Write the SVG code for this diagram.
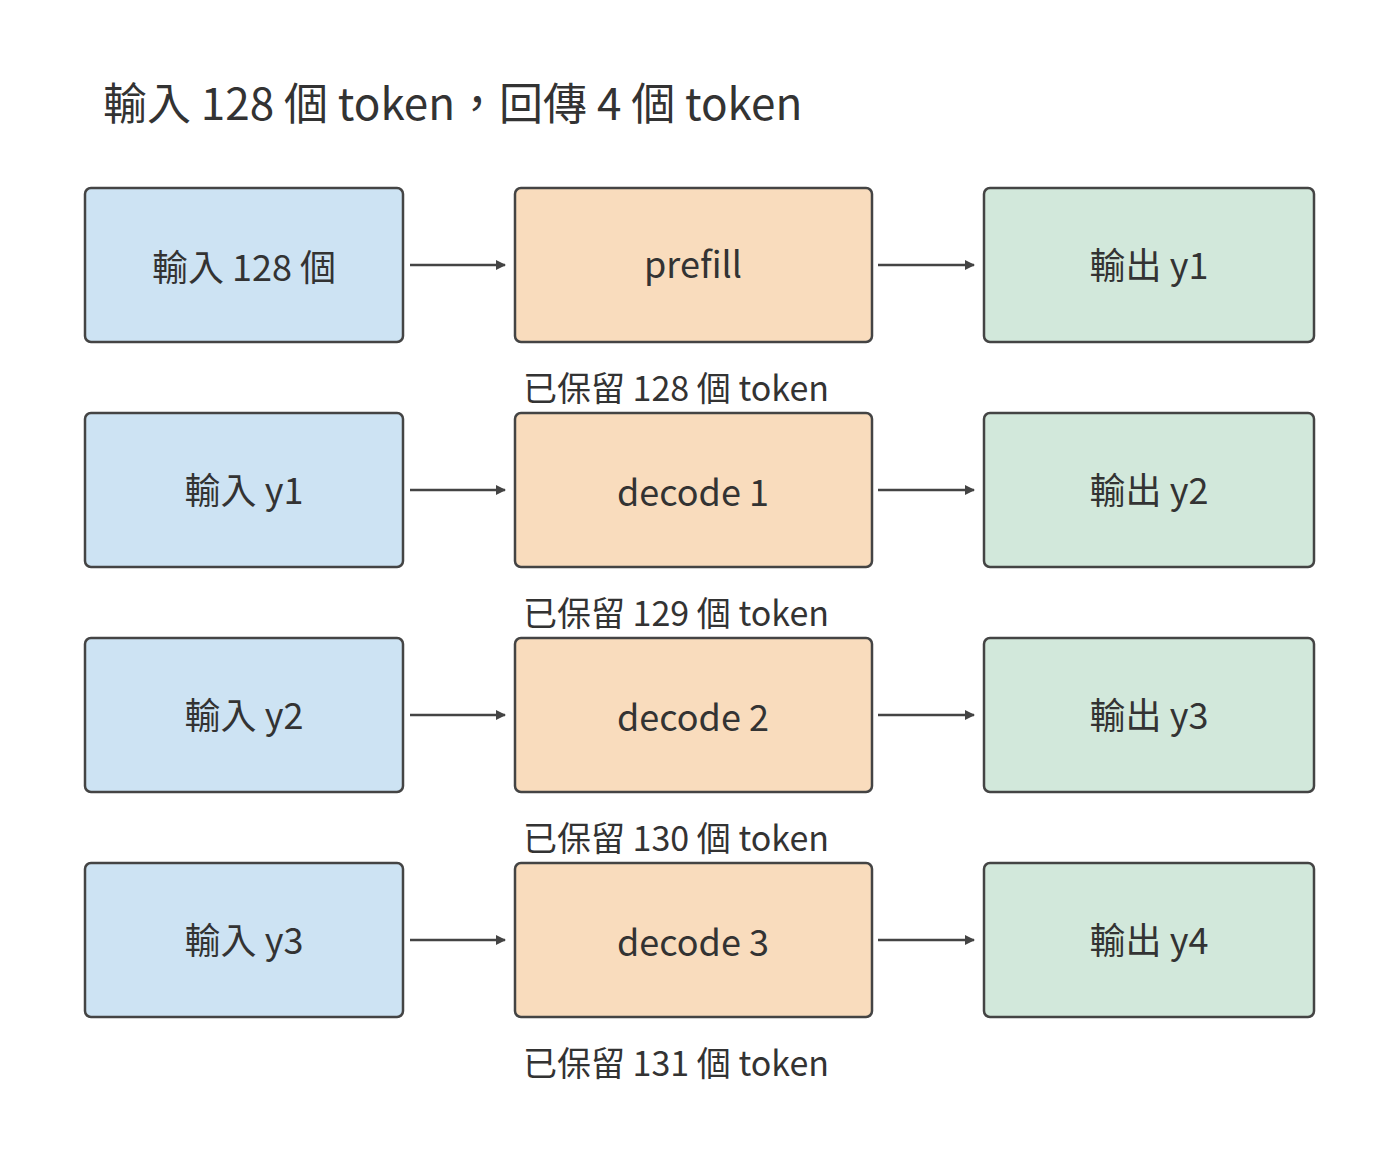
<svg xmlns="http://www.w3.org/2000/svg" width="1400" height="1152" viewBox="0 0 1400 1152">
<style>
text{font-family:"Noto Sans CJK TC","Noto Sans",sans-serif;fill:#333}
.b{stroke:#444;stroke-width:2.5}
.in{fill:#cde3f3}.mid{fill:#f9dcbd}.out{fill:#d2e8db}
.l{font-size:36px;text-anchor:middle;dominant-baseline:central}
.c{font-size:34px}
.a{stroke:#444;stroke-width:2.5;fill:none;marker-end:url(#ah)}
</style>
<defs><marker id="ah" markerWidth="10" markerHeight="10" refX="9" refY="5" orient="auto" markerUnits="userSpaceOnUse" viewBox="0 0 10 10"><path d="M0,0L10,5L0,10z" fill="#444"/></marker></defs>
<rect width="1400" height="1152" fill="#fff"/>
<text x="103" y="120" font-size="44">輸入 128 個 token，回傳 4 個 token</text>
<g id="in0"><rect class="b in" x="85" y="188" width="318" height="154" rx="6"/><text class="l" x="244" y="265">輸入 128 個</text></g>
<g id="mid0"><rect class="b mid" x="515" y="188" width="357" height="154" rx="6"/><text class="l" x="693" y="262" font-size="40">prefill</text></g>
<g id="out0"><rect class="b out" x="984" y="188" width="330" height="154" rx="6"/><text class="l" x="1149" y="263">輸出 y1</text></g>
<g id="in1"><rect class="b in" x="85" y="413" width="318" height="154" rx="6"/><text class="l" x="244" y="488">輸入 y1</text></g>
<g id="mid1"><rect class="b mid" x="515" y="413" width="357" height="154" rx="6"/><text class="l" x="693" y="490" font-size="40">decode 1</text></g>
<g id="out1"><rect class="b out" x="984" y="413" width="330" height="154" rx="6"/><text class="l" x="1149" y="488">輸出 y2</text></g>
<g id="in2"><rect class="b in" x="85" y="638" width="318" height="154" rx="6"/><text class="l" x="244" y="713">輸入 y2</text></g>
<g id="mid2"><rect class="b mid" x="515" y="638" width="357" height="154" rx="6"/><text class="l" x="693" y="715" font-size="40">decode 2</text></g>
<g id="out2"><rect class="b out" x="984" y="638" width="330" height="154" rx="6"/><text class="l" x="1149" y="713">輸出 y3</text></g>
<g id="in3"><rect class="b in" x="85" y="863" width="318" height="154" rx="6"/><text class="l" x="244" y="938">輸入 y3</text></g>
<g id="mid3"><rect class="b mid" x="515" y="863" width="357" height="154" rx="6"/><text class="l" x="693" y="940" font-size="40">decode 3</text></g>
<g id="out3"><rect class="b out" x="984" y="863" width="330" height="154" rx="6"/><text class="l" x="1149" y="938">輸出 y4</text></g>
<g id="captions">
<text class="c" x="523" y="401">已保留 128 個 token</text>
<text class="c" x="523" y="626">已保留 129 個 token</text>
<text class="c" x="523" y="851">已保留 130 個 token</text>
<text class="c" x="523" y="1076">已保留 131 個 token</text>
</g>
<g id="connectors">
<path class="a" d="M410,265H505"/><path class="a" d="M878,265H974"/>
<path class="a" d="M410,490H505"/><path class="a" d="M878,490H974"/>
<path class="a" d="M410,715H505"/><path class="a" d="M878,715H974"/>
<path class="a" d="M410,940H505"/><path class="a" d="M878,940H974"/>
</g>
</svg>
